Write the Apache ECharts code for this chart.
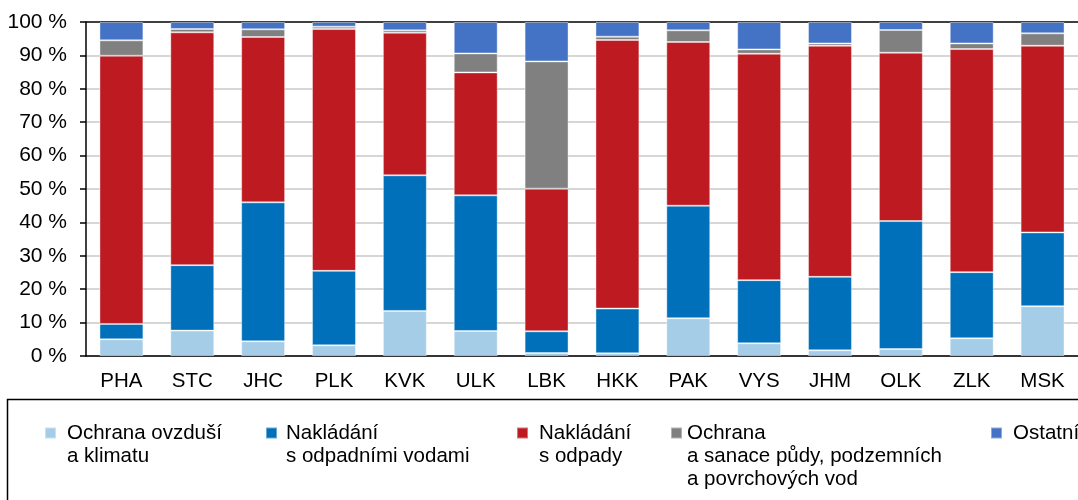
<!DOCTYPE html>
<html>
<head>
<meta charset="utf-8">
<script src="https://cdn.jsdelivr.net/npm/echarts@6/dist/echarts.min.js"></script>
<style>
html, body { margin: 0; padding: 0; background: #fff; }
#chart { width: 1078px; height: 500px; }
</style>
</head>
<body>
<div id="chart"></div>
<script>
// kraje
var regions = ['PHA', 'STC', 'JHC', 'PLK', 'KVK', 'ULK', 'LBK', 'HKK', 'PAK', 'VYS', 'JHM', 'OLK', 'ZLK', 'MSK'];
// podíly v %
var ovzdusi  = [5.0, 7.6, 4.4, 3.2, 13.5, 7.5, 0.9, 0.8, 11.3, 3.8, 1.7, 2.1, 5.3, 14.9];
var vody     = [4.6, 19.6, 41.6, 22.3, 40.6, 40.6, 6.5, 13.4, 33.7, 18.9, 22.0, 38.3, 19.8, 22.1];
var odpady   = [80.3, 69.7, 49.5, 72.4, 42.7, 36.8, 42.7, 80.4, 49.0, 67.8, 69.2, 50.4, 66.8, 55.9];
var pudy     = [4.6, 1.0, 2.3, 0.7, 0.7, 5.7, 38.1, 1.0, 3.5, 1.3, 0.7, 6.8, 1.7, 3.7];
var ostatni  = [5.5, 2.1, 2.2, 1.4, 2.5, 9.4, 11.8, 4.4, 2.5, 8.2, 6.4, 2.4, 6.4, 3.4];

var names = [
   'Ochrana ovzduší\na klimatu',
   'Nakládání\ns odpadními vodami',
   'Nakládání\ns odpady',
   'Ochrana\na sanace půdy, podzemních\na povrchových vod',
   'Ostatní'
];
var colors = ['#A6CDE7', '#0070BB', '#BD1A21', '#808080', '#4472C4'];
var values = [ovzdusi, vody, odpady, pudy, ostatni];

var FONT = '"Liberation Sans", Arial, sans-serif';

var chart = echarts.init(document.getElementById('chart'));

// one legend per item so each can sit where the original has it.
// the icon is centred on the text block, so blank lines are put in front
// to keep the square level with the first line
function legendItem(name, left, gap) {
   var lines = name.split('\n').length;
   return {
      data: [name],
      left: left,
      top: 433 - (2 * lines - 1) * 23 / 2,
      padding: 0,
      icon: 'rect',
      itemWidth: 11,
      itemHeight: 11,
      selectedMode: false,
      formatter: function (n) {
         return new Array(lines).join('\n') + n;
      },
      textStyle: {
         fontFamily: FONT,
         fontSize: 20.5,
         color: '#000',
         lineHeight: 23,
         padding: [0, 0, 0, gap - 5]
      }
   };
}

var series = [];
for (var i = 0; i < names.length; i++) {
   series.push({
      name: names[i],
      type: 'bar',
      stack: 'total',
      barCategoryGap: '38%',
      itemStyle: { color: colors[i], borderColor: 'rgba(255,255,255,0.4)', borderWidth: 1 },
      data: values[i]
   });
}

var gridColors = [];
for (var k = 0; k < 10; k++) gridColors.push('#C8C8C8');
gridColors.push('#000');

var option = {
   animation: false,
   color: colors,
   grid: { left: 86, top: 22, bottom: 144, right: -5 },
   legend: [
      legendItem(names[0], 44, 11),
      legendItem(names[1], 265, 9),
      legendItem(names[2], 516, 11),
      legendItem(names[3], 670, 5),
      legendItem(names[4], 990, 11)
   ],
   graphic: [{
      type: 'rect',
      shape: { x: 7.5, y: 399.5, width: 1200, height: 200 },
      style: { fill: 'none', stroke: '#000', lineWidth: 1.5 },
      silent: true
   }],
   xAxis: {
      type: 'category',
      data: regions,
      axisLine: { lineStyle: { color: '#000', width: 1.5 } },
      axisTick: { length: 6, lineStyle: { color: '#000', width: 1.5 } },
      axisLabel: { fontFamily: FONT, fontSize: 20.5, color: '#000', margin: 15 }
   },
   yAxis: {
      type: 'value',
      min: 0,
      max: 100,
      interval: 10,
      axisLine: { show: true, lineStyle: { color: '#000', width: 1.5 } },
      axisTick: { show: true, length: 6, lineStyle: { color: '#000', width: 1.5 } },
      axisLabel: { fontFamily: FONT, fontSize: 21, color: '#000', margin: 19, formatter: '{value} %' },
      splitLine: { lineStyle: { color: gridColors, width: 1.5 } }
   },
   series: series
};
chart.setOption(option);
</script>
</body>
</html>
